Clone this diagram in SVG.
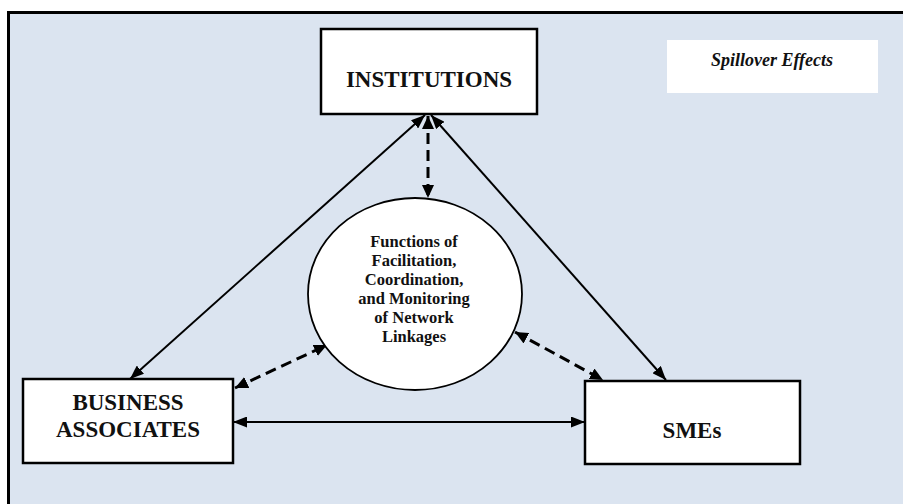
<svg xmlns="http://www.w3.org/2000/svg" width="903" height="504" viewBox="0 0 903 504">
<style>
.box{fill:#fff;stroke:#000;stroke-width:2.5}
.lbl{font-family:"Liberation Serif","Times New Roman",serif;font-weight:bold;fill:#111;text-anchor:middle}
.big{font-size:23px}
.small{font-size:16.5px}
.solid{stroke:#000;stroke-width:2;fill:none;marker-start:url(#ah);marker-end:url(#ah)}
.dash{stroke:#000;stroke-width:3;stroke-dasharray:11 6;fill:none;marker-start:url(#dh);marker-end:url(#dh)}
</style>
<defs>
<marker id="ah" markerUnits="userSpaceOnUse" viewBox="0 0 14 11" refX="14" refY="5.5" markerWidth="14" markerHeight="11" orient="auto-start-reverse">
<path d="M0,0 L14,5.5 L0,11 z" fill="#000"/>
</marker>
<marker id="dh" markerUnits="userSpaceOnUse" viewBox="0 0 13 12" refX="13" refY="6" markerWidth="13" markerHeight="12" orient="auto-start-reverse">
<path d="M0,0 L13,6 L0,12 z" fill="#000"/>
</marker>
</defs>
<rect x="0" y="0" width="903" height="504" fill="#fff"/>
<rect id="frame" x="8.5" y="12.5" width="900" height="500" fill="#dbe4f0" stroke="#000" stroke-width="3"/>
<g id="spillover">
<rect x="667" y="40" width="211" height="53" fill="#fff"/>
<text x="772" y="66" class="lbl" font-style="italic" font-size="18">Spillover Effects</text>
</g>
<g id="connectors">
<line class="solid" x1="425" y1="115" x2="130" y2="379"/>
<line class="solid" x1="431" y1="115" x2="666" y2="380"/>
<line class="solid" x1="233" y1="422" x2="585" y2="422"/>
<line class="dash" x1="428" y1="116" x2="428" y2="198"/>
<line class="dash" x1="235" y1="388" x2="327" y2="345"/>
<line class="dash" x1="515" y1="332" x2="603" y2="380"/>
</g>
<g id="institutions">
<rect class="box" x="321" y="29" width="216" height="85"/>
<text class="lbl big" x="429" y="87">INSTITUTIONS</text>
</g>
<g id="functions">
<ellipse cx="415" cy="294" rx="107" ry="96" fill="#fff" stroke="#000" stroke-width="1.8"/>
<text class="lbl small" x="414" y="247">Functions of</text>
<text class="lbl small" x="414" y="266">Facilitation,</text>
<text class="lbl small" x="414" y="285">Coordination,</text>
<text class="lbl small" x="414" y="304">and Monitoring</text>
<text class="lbl small" x="414" y="323">of Network</text>
<text class="lbl small" x="414" y="342">Linkages</text>
</g>
<g id="business">
<rect class="box" x="23" y="379" width="210" height="84"/>
<text class="lbl big" x="128" y="410">BUSINESS</text>
<text class="lbl big" x="128" y="437">ASSOCIATES</text>
</g>
<g id="smes">
<rect class="box" x="585" y="381" width="215" height="83"/>
<text class="lbl big" x="692" y="438">SMEs</text>
</g>
</svg>
